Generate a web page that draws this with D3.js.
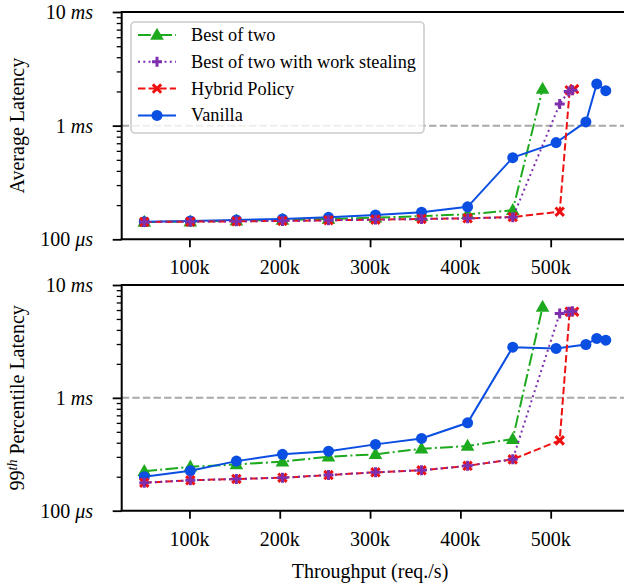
<!DOCTYPE html>
<html><head><meta charset="utf-8">
<script src="https://cdn.jsdelivr.net/npm/d3@7"></script>
<style>body{margin:0;background:#fff}svg{display:block}svg text{font-family:"Liberation Serif",serif !important;font-weight:normal}</style>
</head><body><svg id="c" width="624" height="584" font-family="Liberation Serif, serif"></svg>
<script>
// ---- data (throughput in req/s, latency in ms) ----
const seriesNames = ["Best of two", "Best of two with work stealing", "Hybrid Policy", "Vanilla"];
const xTickValues = [100000, 200000, 300000, 400000, 500000];
const xTickLabels = ["100k", "200k", "300k", "400k", "500k"];
const yTickValues = [0.1, 1, 10];
const yTickNumbers = ["100", "1", "10"];
const yTickUnits = ["\u03bcs", "ms", "ms"];

const bestX    = [50000, 101000, 152000, 203000, 254000, 306000, 357000, 408000, 458000, 491000];
const bestAvg  = [0.142, 0.143, 0.146, 0.148, 0.151, 0.155, 0.160, 0.166, 0.180, 2.10];
const bestP99  = [0.224, 0.245, 0.257, 0.272, 0.301, 0.316, 0.354, 0.374, 0.431, 6.38];

const wsX      = [50000, 101000, 152000, 203000, 254000, 306000, 357000, 408000, 458000, 510000, 520000, 524000];
const wsAvg    = [0.142, 0.143, 0.144, 0.145, 0.147, 0.149, 0.151, 0.153, 0.156, 1.55, 2.00, 2.05];
const wsP99    = [0.177, 0.186, 0.191, 0.196, 0.207, 0.219, 0.228, 0.250, 0.286, 5.6, 5.8, 5.85];

const hybX     = [50000, 101000, 152000, 203000, 254000, 306000, 357000, 408000, 458000, 510000, 521000, 526000];
const hybAvg   = [0.142, 0.143, 0.144, 0.145, 0.147, 0.149, 0.151, 0.153, 0.157, 0.175, 2.05, 2.10];
const hybP99   = [0.177, 0.186, 0.191, 0.196, 0.207, 0.219, 0.228, 0.250, 0.285, 0.42, 5.8, 5.8];

const vanX     = [50000, 101000, 152000, 203000, 254000, 306000, 357000, 408000, 458000, 506000, 539000, 551000, 561000];
const vanAvg   = [0.143, 0.145, 0.148, 0.151, 0.156, 0.164, 0.173, 0.193, 0.523, 0.709, 1.078, 2.33, 2.03];
const vanP99   = [0.200, 0.226, 0.275, 0.316, 0.337, 0.387, 0.437, 0.601, 2.81, 2.74, 2.97, 3.36, 3.24];

const refLine = 1; // ms

// ---- styles ----
const styles = {
  "Best of two": {color: "#1eaa1e", dash: "12.8,3.2,2,3.2", marker: "tri"},
  "Best of two with work stealing": {color: "#7d2fae", dash: "2,3.3", marker: "plus"},
  "Hybrid Policy": {color: "#ee1111", dash: "7.4,3.2", marker: "x"},
  "Vanilla": {color: "#0b4ee2", dash: null, marker: "circle"}
};

const svg = d3.select("#c");
svg.append("rect").attr("width", 624).attr("height", 584).attr("fill", "#fff");
const FONT = "Liberation Serif, serif";

const x = d3.scaleLinear().domain([25000, 600000]).range([121.7, 641]);

function drawMarker(g, type, cx, cy, color) {
  if (type === "circle") {
    g.append("circle").attr("cx", cx).attr("cy", cy).attr("r", 5.5).attr("fill", color);
  } else if (type === "tri") {
    const w = 6.8, h = 12;
    g.append("path").attr("d", `M${cx},${cy - h * 0.6}L${cx + w},${cy + h * 0.4}L${cx - w},${cy + h * 0.4}Z`).attr("fill", color);
  } else if (type === "x") {
    const s = 4.2;
    g.append("path").attr("d", `M${cx - s},${cy - s}L${cx + s},${cy + s}M${cx - s},${cy + s}L${cx + s},${cy - s}`)
      .attr("stroke", color).attr("stroke-width", 3).attr("fill", "none");
  } else if (type === "plus") {
    const s = 5;
    g.append("path").attr("d", `M${cx - s},${cy}L${cx + s},${cy}M${cx},${cy - s}L${cx},${cy + s}`)
      .attr("stroke", color).attr("stroke-width", 3).attr("fill", "none");
  }
}

function panel(top, bottom, data, labelFn, showLegend) {
  const y = d3.scaleLog().domain([0.1, 10]).range([bottom, top]);
  const g = svg.append("g");
  const clipId = "clip" + Math.round(top);
  svg.append("clipPath").attr("id", clipId).append("rect")
    .attr("x", x.range()[0]).attr("y", top).attr("width", x.range()[1] - x.range()[0]).attr("height", bottom - top);
  const plot = g.append("g").attr("clip-path", `url(#${clipId})`);

  plot.append("line").attr("x1", x.range()[0]).attr("x2", x.range()[1])
    .attr("y1", y(refLine)).attr("y2", y(refLine))
    .attr("stroke", "#a9a9a9").attr("stroke-width", 2).attr("stroke-dasharray", "7.4,3.2");

  const order = [0, 3, 2, 1];
  order.forEach(i => {
    const d = data[i];
    const st = styles[d.name];
    const pts = d.xs.map((v, k) => [x(v), y(d.ys[k])]);
    const p = plot.append("path").attr("d", d3.line()(pts)).attr("fill", "none")
      .attr("stroke", st.color).attr("stroke-width", 2);
    if (st.dash) p.attr("stroke-dasharray", st.dash);
    pts.forEach(pt => drawMarker(plot, st.marker, pt[0], pt[1], st.color));
  });

  const xAxis = d3.axisBottom(x).tickValues(xTickValues).tickFormat("").tickSize(8);
  const xg = g.append("g").attr("transform", `translate(0,${bottom})`).call(xAxis);
  xg.select(".domain").remove();
  xg.selectAll(".tick text").remove();
  xg.selectAll(".tick line").attr("stroke", "#000").attr("stroke-width", 1.8);
  const xl = g.append("g").attr("class", "xlabels");
  xTickValues.forEach((v, i) => {
    xl.append("text").attr("x", x(v)).attr("y", bottom + 35).attr("text-anchor", "middle")
      .attr("font-family", FONT).attr("font-size", 20).attr("fill", "#000").text(xTickLabels[i]);
  });

  const minors = [];
  [0.1, 1].forEach(dec => { for (let m = 2; m <= 9; m++) minors.push(dec * m); });
  const ymg = g.append("g").attr("transform", `translate(${x.range()[0]},0)`)
    .call(d3.axisLeft(y).tickValues(minors).tickSize(5).tickFormat(""));
  ymg.select(".domain").remove();
  ymg.selectAll(".tick text").remove();
  ymg.selectAll(".tick line").attr("stroke", "#000").attr("stroke-width", 1.3);

  const yg = g.append("g").attr("transform", `translate(${x.range()[0]},0)`)
    .call(d3.axisLeft(y).tickValues(yTickValues).tickSize(9).tickFormat(""));
  yg.select(".domain").remove();
  yg.selectAll(".tick text").remove();
  yg.selectAll(".tick line").attr("stroke", "#000").attr("stroke-width", 1.8);
  yTickValues.forEach((v, i) => {
    const t = g.append("text").attr("x", 93).attr("y", y(v)).attr("text-anchor", "end")
      .attr("dominant-baseline", "central").attr("font-family", FONT).attr("font-size", 20).attr("fill", "#000");
    t.append("tspan").text(yTickNumbers[i] + " ");
    t.append("tspan").attr("font-style", "italic").text(yTickUnits[i]);
  });

  const spine = (x1, y1, x2, y2) => g.append("line").attr("x1", x1).attr("y1", y1).attr("x2", x2).attr("y2", y2)
    .attr("stroke", "#000").attr("stroke-width", 2);
  spine(x.range()[0], top, x.range()[0], bottom);
  spine(x.range()[0] - 1, bottom, x.range()[1], bottom);
  spine(x.range()[0] - 1, top, x.range()[1], top);
  spine(x.range()[1], top, x.range()[1], bottom);

  const lbl = g.append("text").attr("transform", `translate(24,${(top + bottom) / 2}) rotate(-90)`)
    .attr("text-anchor", "middle").attr("font-family", FONT).attr("font-size", 20).attr("fill", "#000");
  labelFn(lbl);

  if (showLegend) {
    const lg = g.append("g");
    lg.append("rect").attr("x", 131).attr("y", 22).attr("width", 293).attr("height", 111).attr("rx", 4)
      .attr("fill", "#fff").attr("fill-opacity", 0.8).attr("stroke", "#cccccc").attr("stroke-width", 1.6);
    seriesNames.forEach((name, i) => {
      const st = styles[name];
      const ry = 35 + i * 26.8;
      const ln = lg.append("line").attr("x1", 138).attr("x2", 176).attr("y1", ry).attr("y2", ry)
        .attr("stroke", st.color).attr("stroke-width", 2);
      if (st.dash) ln.attr("stroke-dasharray", st.dash);
      drawMarker(lg, st.marker, 157, ry, st.color);
      lg.append("text").attr("x", 191).attr("y", ry).attr("dominant-baseline", "central")
        .attr("font-family", FONT).attr("font-size", 18.3).attr("fill", "#000").text(name);
    });
  }
}

const avgData = [
  {name: seriesNames[0], xs: bestX, ys: bestAvg},
  {name: seriesNames[1], xs: wsX, ys: wsAvg},
  {name: seriesNames[2], xs: hybX, ys: hybAvg},
  {name: seriesNames[3], xs: vanX, ys: vanAvg}
];
const p99Data = [
  {name: seriesNames[0], xs: bestX, ys: bestP99},
  {name: seriesNames[1], xs: wsX, ys: wsP99},
  {name: seriesNames[2], xs: hybX, ys: hybP99},
  {name: seriesNames[3], xs: vanX, ys: vanP99}
];

panel(12, 239.3, avgData, t => t.text("Average Latency"), true);
panel(285, 510.7, p99Data, t => {
  t.append("tspan").text("99");
  t.append("tspan").attr("font-style", "italic").attr("font-size", 14).attr("dy", -7).text("th");
  t.append("tspan").attr("dy", 7).text(" Percentile Latency");
}, false);

svg.append("text").attr("x", 370).attr("y", 578).attr("text-anchor", "middle")
  .attr("font-family", FONT).attr("font-size", 20).attr("fill", "#000").text("Throughput (req./s)");
</script></body></html>
